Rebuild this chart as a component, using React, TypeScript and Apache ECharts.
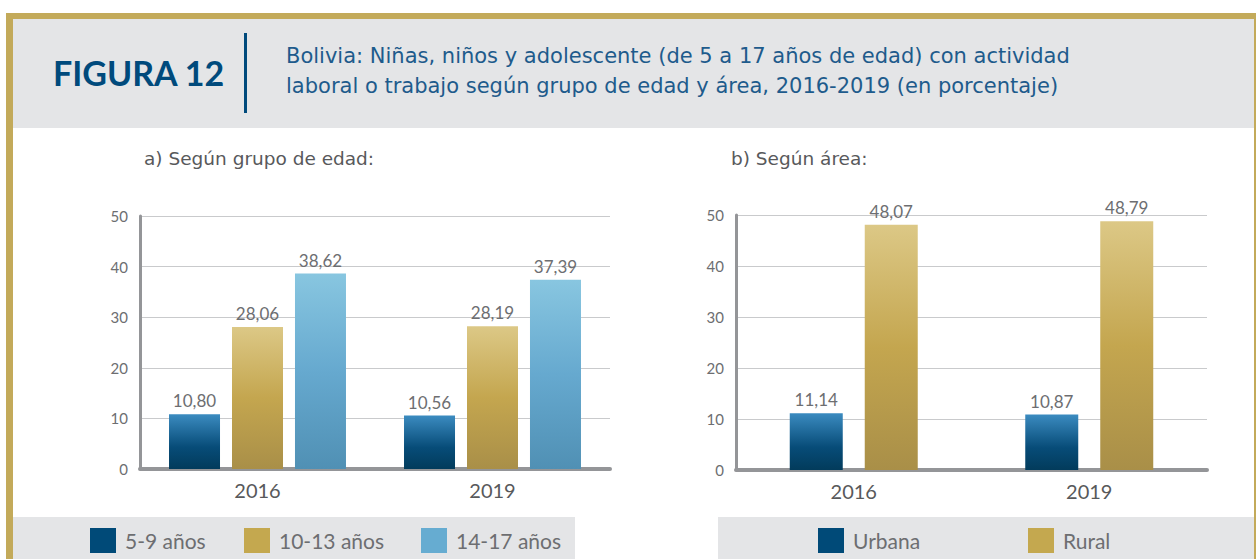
import React, { useEffect, useRef } from "react";
import * as echarts from "echarts";

// ---- data ----
const years = ["2016", "2019"];
const ageGroups = ["5-9 años", "10-13 años", "14-17 años"];
const age5to9 = [10.8, 10.56];
const age10to13 = [28.06, 28.19];
const age14to17 = [38.62, 37.39];
const areas = ["Urbana", "Rural"];
const urbana = [11.14, 10.87];
const rural = [48.07, 48.79];
const yMin = 0;
const yMax = 50;
const yStep = 10;

const figureLabel = "FIGURA 12";
const titleLines = [
  "Bolivia: Niñas, niños y adolescente (de 5 a 17 años de edad) con actividad",
  "laboral o trabajo según grupo de edad y área, 2016-2019 (en porcentaje)",
];
const subtitleA = "a) Según grupo de edad:";
const subtitleB = "b) Según área:";

// ---- style ----
const FONT = "Lato, 'Open Sans', sans-serif";
const WIDE_FONT = "'DejaVu Sans', 'Open Sans', sans-serif";
const GOLD = "#c3aa5a";
const HEADER_BG = "#e4e5e7";
const DARK_BLUE = "#004a7c";
const TEXT_GREY = "#6d6e71";
const AXIS_GREY = "#949598";
const GRID_GREY = "#c9cacc";

const grad = (stops: [number, string][]) => ({
  type: "linear",
  x: 0,
  y: 0,
  x2: 0,
  y2: 1,
  colorStops: stops.map(([offset, color]) => ({ offset, color })),
});

const blueGrad = grad([
  [0, "#3b8bc0"],
  [0.6, "#074c78"],
  [1, "#023b5b"],
]);
const goldGrad = grad([
  [0, "#dcc886"],
  [0.5, "#c4a64f"],
  [1, "#a98f48"],
]);
const lightBlueGrad = grad([
  [0, "#88c6e0"],
  [0.5, "#66a9cf"],
  [1, "#5090b4"],
]);

const legendColors: Record<string, string> = {
  "5-9 años": "#004a78",
  "10-13 años": "#c4a84f",
  "14-17 años": "#66acd1",
  Urbana: "#004a78",
  Rural: "#c4a84f",
};

const fmt = (v: number) => v.toFixed(2).replace(".", ",");

export default function App() {
  const ref = useRef<HTMLDivElement>(null);

  useEffect(() => {
    document.body.style.margin = "0";
    if (!ref.current) return;
    const chart = echarts.init(ref.current, undefined, { renderer: "svg" });

    const yAxisBase = {
      type: "value",
      min: yMin,
      max: yMax,
      interval: yStep,
      axisLine: { show: true, lineStyle: { color: AXIS_GREY, width: 3 } },
      axisTick: { show: false },
      axisLabel: { color: TEXT_GREY, fontSize: 15, fontFamily: FONT, margin: 12 },
      splitLine: { show: true, lineStyle: { color: GRID_GREY, width: 1 } },
    };
    const xAxisBase = {
      type: "category",
      data: years,
      axisLine: { show: true, lineStyle: { color: AXIS_GREY, width: 4 } },
      axisTick: { show: false },
      axisLabel: { color: "#58595b", fontSize: 20, fontFamily: FONT, margin: 11 },
    };
    const labelBase = {
      show: true,
      position: "top",
      distance: 5,
      color: TEXT_GREY,
      fontSize: 17,
      fontFamily: FONT,
      formatter: (p: any) => fmt(p.value),
    };

    const leftSeries = [age5to9, age10to13, age14to17].map((d, i) => ({
      name: ageGroups[i],
      type: "bar",
      xAxisIndex: 0,
      yAxisIndex: 0,
      data: d,
      barWidth: 51,
      barGap: "23.5%",
      itemStyle: { color: [blueGrad, goldGrad, lightBlueGrad][i] },
      label: labelBase,
    }));
    const rightSeries = [urbana, rural].map((d, i) => ({
      name: areas[i],
      type: "bar",
      xAxisIndex: 1,
      yAxisIndex: 1,
      data: d,
      barWidth: 53,
      barGap: "41.5%",
      itemStyle: { color: [blueGrad, goldGrad][i] },
      label: labelBase,
    }));

    const legendPositions: [string, number][] = [
      ["5-9 años", 90],
      ["10-13 años", 244],
      ["14-17 años", 421],
      ["Urbana", 818],
      ["Rural", 1028],
    ];
    const legends = legendPositions.map(([name, x]) => ({
      left: x,
      top: 528,
      padding: 0,
      icon: "rect",
      itemWidth: 26,
      itemHeight: 25,
      selectedMode: false,
      data: [{ name, itemStyle: { color: legendColors[name] } }],
      textStyle: {
        color: TEXT_GREY,
        fontSize: 21,
        fontFamily: FONT,
        padding: [0, 0, 0, 4],
      },
    }));

    const graphic: any[] = [
      // gold frame
      { type: "rect", left: 6, top: 13, shape: { width: 1250, height: 6 }, style: { fill: GOLD }, silent: true },
      { type: "rect", left: 6, top: 13, shape: { width: 7, height: 546 }, style: { fill: GOLD }, silent: true },
      { type: "rect", left: 1254, top: 13, shape: { width: 2, height: 546 }, style: { fill: GOLD }, silent: true },
      // header
      { type: "rect", left: 13, top: 19, shape: { width: 1241, height: 109 }, style: { fill: HEADER_BG }, silent: true },
      {
        type: "text",
        x: 53,
        y: 72,
        style: {
          text: figureLabel,
          fill: DARK_BLUE,
          font: `bold 34px ${FONT}`,
          textVerticalAlign: "middle",
        },
        silent: true,
      },
      { type: "rect", left: 244, top: 33, shape: { width: 3, height: 80 }, style: { fill: DARK_BLUE }, silent: true },
      ...titleLines.map((t, i) => ({
        type: "text",
        x: 286,
        y: 56 + i * 30,
        style: {
          text: t,
          fill: "#1e5b8c",
          font: `21px ${WIDE_FONT}`,
          textVerticalAlign: "middle",
        },
        silent: true,
      })),
      // subtitles
      {
        type: "text",
        x: 144,
        y: 158,
        style: { text: subtitleA, fill: "#58595b", font: `18.5px ${WIDE_FONT}`, textVerticalAlign: "middle" },
        silent: true,
      },
      {
        type: "text",
        x: 731,
        y: 158,
        style: { text: subtitleB, fill: "#58595b", font: `18.5px ${WIDE_FONT}`, textVerticalAlign: "middle" },
        silent: true,
      },
      // legend bands
      { type: "rect", left: 13, top: 517, shape: { width: 562, height: 42 }, style: { fill: HEADER_BG }, silent: true, z: -1 },
      { type: "rect", left: 718, top: 517, shape: { width: 536, height: 42 }, style: { fill: HEADER_BG }, silent: true, z: -1 },
    ];

    chart.setOption({
      animation: false,
      backgroundColor: "#ffffff",
      grid: [
        { left: 140, top: 216, width: 470, height: 253 },
        { left: 736, top: 215, width: 471, height: 255 },
      ],
      xAxis: [
        { ...xAxisBase, gridIndex: 0 },
        { ...xAxisBase, gridIndex: 1 },
      ],
      yAxis: [
        { ...yAxisBase, gridIndex: 0 },
        { ...yAxisBase, gridIndex: 1 },
      ],
      legend: legends,
      series: [...leftSeries, ...rightSeries],
      graphic,
    });

    return () => chart.dispose();
  }, []);

  return <div ref={ref} style={{ width: 1256, height: 559 }} />;
}
